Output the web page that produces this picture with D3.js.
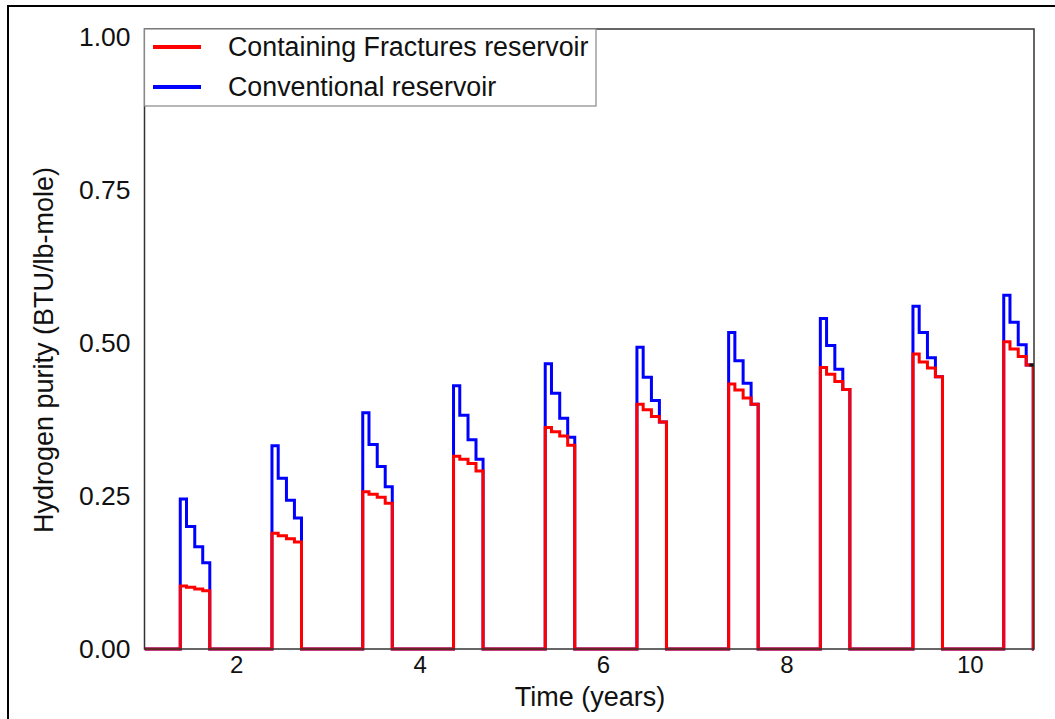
<!DOCTYPE html>
<html>
<head>
<meta charset="utf-8">
<script src="https://cdn.jsdelivr.net/npm/d3@7"></script>
<style>
  body { margin: 0; background: #fff; }
  svg { display: block; font-family: "Liberation Sans", Arial, sans-serif; }
</style>
</head>
<body>
<div id="chart"></div>
<script>
// pulse start times (years) and step offsets inside each pulse
var pulseStarts = [1.39, 2.39, 3.38, 4.37, 5.37, 6.37, 7.37, 8.37, 9.38, 10.37];
var stepOffsets = [0, 0.068, 0.158, 0.245];
var pulseLength = 0.322;

// hydrogen purity per pulse, four monthly steps each
var conventional = [
  [0.245, 0.200, 0.167, 0.141],
  [0.332, 0.279, 0.243, 0.214],
  [0.386, 0.334, 0.298, 0.265],
  [0.430, 0.382, 0.342, 0.310],
  [0.466, 0.418, 0.377, 0.346],
  [0.493, 0.444, 0.406, 0.371],
  [0.517, 0.471, 0.434, 0.400],
  [0.540, 0.496, 0.457, 0.424],
  [0.560, 0.517, 0.476, 0.445],
  [0.578, 0.534, 0.497, 0.464]
];
var fractured = [
  [0.103, 0.101, 0.098, 0.095],
  [0.189, 0.185, 0.180, 0.175],
  [0.257, 0.253, 0.248, 0.238],
  [0.315, 0.310, 0.303, 0.291],
  [0.362, 0.355, 0.348, 0.333],
  [0.400, 0.391, 0.380, 0.371],
  [0.433, 0.423, 0.410, 0.400],
  [0.460, 0.449, 0.437, 0.424],
  [0.482, 0.469, 0.459, 0.445],
  [0.502, 0.490, 0.478, 0.464]
];
// short black trace visible at the right edge
var tailTimes = [10.65, 10.7];
var tailValues = [0.464, 0.464];

var xTicks = [2, 4, 6, 8, 10];
var yTicks = [0, 0.25, 0.5, 0.75, 1.0];
var seriesNames = ["Containing Fractures reservoir", "Conventional reservoir"];
var seriesColors = ["#ff0000", "#0000ff"];

var width = 1055, height = 719;
var margin = { left: 144.5, right: 21, top: 29, bottom: 70 };
var xMin = 1, xMax = 10.7;

var svg = d3.select("#chart").append("svg")
    .attr("width", width)
    .attr("height", height);

// outer frame of the figure
svg.append("rect")
    .attr("x", 8).attr("y", 6)
    .attr("width", 1200).attr("height", 1000)
    .attr("fill", "none")
    .attr("stroke", "#000")
    .attr("stroke-width", 2);

var x = d3.scaleLinear().domain([xMin, xMax]).range([margin.left, width - margin.right]);
var y = d3.scaleLinear().domain([0, 1.013]).range([height - margin.bottom, margin.top]);

svg.append("defs").append("clipPath").attr("id", "plotClip")
  .append("rect")
    .attr("x", x(xMin)).attr("y", y(1.013) - 3)
    .attr("width", x(xMax) - x(xMin)).attr("height", y(0) - y(1.013) + 6);

// build step points: baseline, four steps per pulse, back to baseline
function buildSteps(values) {
    var pts = [{ t: xMin, v: 0 }];
    pulseStarts.forEach(function (s, i) {
        stepOffsets.forEach(function (o, j) {
            pts.push({ t: s + o, v: values[i][j] });
        });
        pts.push({ t: s + pulseLength, v: 0 });
    });
    pts.push({ t: xMax, v: 0 });
    return pts.filter(function (p) { return p.t <= xMax; });
}

var line = d3.line()
    .x(function (d) { return x(d.t); })
    .y(function (d) { return y(d.v); })
    .curve(d3.curveStepAfter);

var plot = svg.append("g").attr("clip-path", "url(#plotClip)");

plot.append("path")
    .datum(buildSteps(conventional))
    .attr("fill", "none")
    .attr("stroke", seriesColors[1])
    .attr("stroke-width", 3)
    .attr("d", line);

plot.append("path")
    .datum(buildSteps(fractured))
    .attr("fill", "none")
    .attr("stroke", seriesColors[0])
    .attr("stroke-width", 3)
    .attr("d", line);

plot.append("path")
    .datum(tailTimes.map(function (t, i) { return { t: t, v: tailValues[i] }; }))
    .attr("fill", "none")
    .attr("stroke", "#111")
    .attr("stroke-width", 3)
    .attr("d", line);

// plot frame
svg.append("rect")
    .attr("x", x(xMin)).attr("y", y(1.013))
    .attr("width", x(xMax) - x(xMin))
    .attr("height", y(0) - y(1.013))
    .attr("fill", "none")
    .attr("stroke", "#333")
    .attr("stroke-width", 1.5);

// axes
var xAxis = d3.axisBottom(x).tickValues(xTicks).tickSize(0).tickPadding(7)
    .tickFormat(d3.format("d"));
var yAxis = d3.axisLeft(y).tickValues(yTicks).tickSize(0).tickPadding(14)
    .tickFormat(d3.format(".2f"));

var gx = svg.append("g")
    .attr("class", "x axis")
    .attr("transform", "translate(0," + y(0) + ")")
    .call(xAxis);
var gy = svg.append("g")
    .attr("class", "y axis")
    .attr("transform", "translate(" + x(xMin) + ",0)")
    .call(yAxis);
svg.selectAll(".axis .domain").remove();
svg.selectAll(".axis text")
    .attr("font-family", "Liberation Sans, Arial, sans-serif")
    .attr("fill", "#111");
gx.selectAll("text").attr("font-size", 24);
gy.selectAll("text").attr("font-size", 26.5);

svg.append("text")
    .attr("x", 590).attr("y", 706)
    .attr("text-anchor", "middle")
    .attr("font-size", 27)
    .attr("fill", "#111")
    .text("Time (years)");

svg.append("text")
    .attr("transform", "translate(53,350) rotate(-90)")
    .attr("text-anchor", "middle")
    .attr("font-size", 27)
    .attr("fill", "#111")
    .text("Hydrogen purity (BTU/lb-mole)");

// legend
var legend = svg.append("g").attr("class", "legends");
legend.append("rect")
    .attr("x", x(xMin)).attr("y", y(1.013))
    .attr("width", 596 - x(xMin)).attr("height", 106 - y(1.013))
    .attr("fill", "#fff")
    .attr("stroke", "#888")
    .attr("stroke-width", 1.2);
seriesNames.forEach(function (name, i) {
    var ly = 47 + i * 40;
    legend.append("line")
        .attr("x1", 153).attr("x2", 201)
        .attr("y1", ly).attr("y2", ly)
        .attr("stroke", seriesColors[i])
        .attr("stroke-width", 4);
    legend.append("text")
        .attr("x", 228).attr("y", ly)
        .attr("dy", "0.35em")
        .attr("font-size", 26.8)
        .attr("fill", "#111")
        .text(name);
});
</script>
</body>
</html>
